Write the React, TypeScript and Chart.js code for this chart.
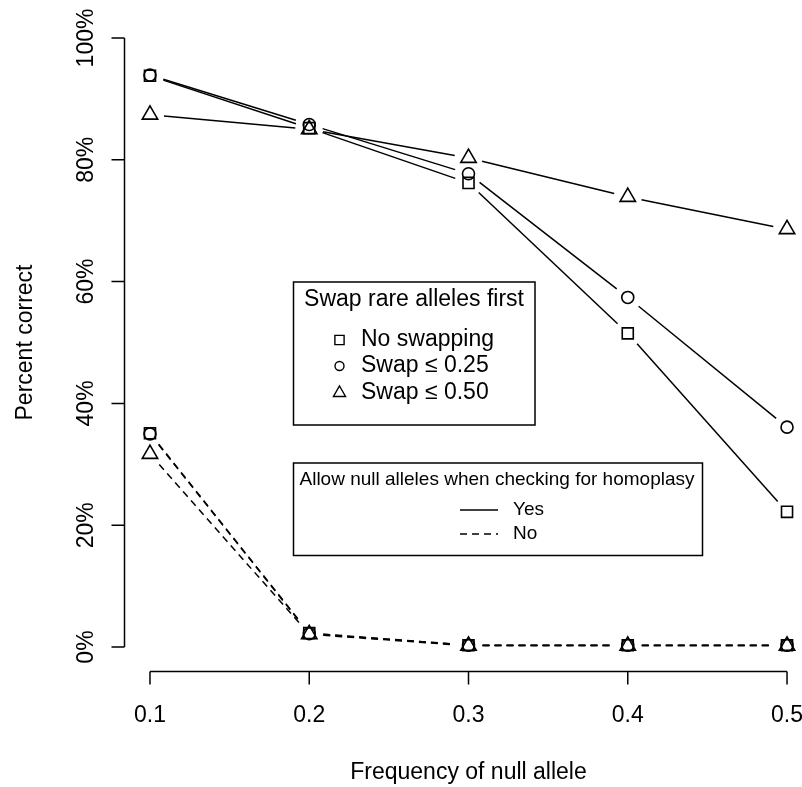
import React, { useEffect, useRef } from "react";
import { Chart, registerables } from "chart.js";

Chart.register(...registerables);

// ---- data ----
const frequencies = [0.1, 0.2, 0.3, 0.4, 0.5];
const yesNoSwap = [93.8, 85.2, 76.2, 51.5, 22.2];
const yesSwap25 = [93.9, 85.8, 77.7, 57.4, 36.1];
const yesSwap50 = [87.4, 85.0, 80.3, 73.9, 68.6];
const noNoSwap = [35.1, 2.3, 0.3, 0.3, 0.3];
const noSwap25 = [35.0, 2.2, 0.3, 0.3, 0.3];
const noSwap50 = [31.7, 2.1, 0.2, 0.2, 0.2];
const xTicks = [0.1, 0.2, 0.3, 0.4, 0.5];
const yTicks = [0, 20, 40, 60, 80, 100];
const swapLabels = ["No swapping", "Swap \u2264 0.25", "Swap \u2264 0.50"];
const nullLabels = ["Yes", "No"];
const xTitle = "Frequency of null allele";
const yTitle = "Percent correct";
const swapTitle = "Swap rare alleles first";
const nullTitle = "Allow null alleles when checking for homoplasy";

const FONT = '"Liberation Sans", Arial, Helvetica, sans-serif';
const GAP = 14;

const styles = ["rect", "circle", "triangle"];
const radii = [7.8, 6, 8.9];

function toPts(vals: number[]) {
  return frequencies.map((f, i) => ({ x: f, y: vals[i] }));
}

function drawSymbol(ctx: CanvasRenderingContext2D, style: string, x: number, y: number, r: number) {
  ctx.beginPath();
  if (style === "rect") {
    ctx.rect(x - r, y - r, 2 * r, 2 * r);
  } else if (style === "circle") {
    ctx.arc(x, y, r, 0, Math.PI * 2);
  } else {
    ctx.moveTo(x, y - r);
    ctx.lineTo(x + r * 0.866, y + r * 0.5);
    ctx.lineTo(x - r * 0.866, y + r * 0.5);
    ctx.closePath();
  }
  ctx.stroke();
}

const gapLines = {
  id: "gapLines",
  beforeDatasetsDraw(chart: any) {
    const ctx = chart.ctx as CanvasRenderingContext2D;
    chart.data.datasets.forEach((ds: any, i: number) => {
      const pts = chart.getDatasetMeta(i).data;
      ctx.save();
      ctx.strokeStyle = "#000";
      ctx.lineWidth = 1.5;
      ctx.setLineDash(ds.borderDash || []);
      for (let k = 0; k < pts.length - 1; k++) {
        const a = pts[k];
        const b = pts[k + 1];
        const dx = b.x - a.x;
        const dy = b.y - a.y;
        const len = Math.hypot(dx, dy);
        if (len <= 2 * GAP) continue;
        const ux = dx / len;
        const uy = dy / len;
        ctx.beginPath();
        ctx.moveTo(a.x + ux * GAP, a.y + uy * GAP);
        ctx.lineTo(b.x - ux * GAP, b.y - uy * GAP);
        ctx.stroke();
      }
      ctx.restore();
    });
  },
};

const axesAndLegends = {
  id: "axesAndLegends",
  afterDraw(chart: any) {
    const ctx = chart.ctx as CanvasRenderingContext2D;
    const xs = chart.scales.x;
    const ys = chart.scales.y;
    ctx.save();
    ctx.strokeStyle = "#000";
    ctx.fillStyle = "#000";
    ctx.lineWidth = 1.5;
    ctx.setLineDash([]);

    // y axis
    const ax = chart.chartArea.left;
    const y0 = ys.getPixelForValue(yTicks[0]);
    const y1 = ys.getPixelForValue(yTicks[yTicks.length - 1]);
    ctx.beginPath();
    ctx.moveTo(ax, y0);
    ctx.lineTo(ax, y1);
    yTicks.forEach((t) => {
      const py = ys.getPixelForValue(t);
      ctx.moveTo(ax, py);
      ctx.lineTo(ax - 13, py);
    });
    ctx.stroke();
    ctx.font = `23px ${FONT}`;
    ctx.textAlign = "center";
    ctx.textBaseline = "middle";
    yTicks.forEach((t) => {
      const py = ys.getPixelForValue(t);
      ctx.save();
      ctx.translate(ax - 38, py);
      ctx.rotate(-Math.PI / 2);
      ctx.fillText(`${t}%`, 0, 0);
      ctx.restore();
    });
    ctx.save();
    ctx.translate(26, (chart.chartArea.top + chart.chartArea.bottom) / 2);
    ctx.rotate(-Math.PI / 2);
    ctx.fillText(yTitle, 0, 0);
    ctx.restore();

    // x axis
    const ay = chart.chartArea.bottom;
    const x0 = xs.getPixelForValue(xTicks[0]);
    const x1 = xs.getPixelForValue(xTicks[xTicks.length - 1]);
    ctx.beginPath();
    ctx.moveTo(x0, ay);
    ctx.lineTo(x1, ay);
    xTicks.forEach((t) => {
      const px = xs.getPixelForValue(t);
      ctx.moveTo(px, ay);
      ctx.lineTo(px, ay + 13);
    });
    ctx.stroke();
    xTicks.forEach((t) => {
      ctx.fillText(t.toFixed(1), xs.getPixelForValue(t), ay + 44);
    });
    const cx = (x0 + x1) / 2;
    ctx.fillText(xTitle, cx, ay + 101);

    // legend 1
    ctx.strokeRect(293.5, 282, 241.5, 143);
    ctx.font = `23px ${FONT}`;
    ctx.textAlign = "center";
    ctx.fillText(swapTitle, 414, 300);
    ctx.textAlign = "left";
    const ly = [340, 366, 393];
    const lr = [4.6, 4.5, 7];
    swapLabels.forEach((lab, i) => {
      ctx.lineWidth = 1.4;
      drawSymbol(ctx, styles[i], 339.5, ly[i], lr[i]);
      ctx.fillText(lab, 361, ly[i]);
    });

    // legend 2
    ctx.lineWidth = 1.5;
    ctx.strokeRect(293.5, 463, 409, 92.5);
    ctx.font = `19px ${FONT}`;
    ctx.textAlign = "center";
    ctx.fillText(nullTitle, 497, 480);
    ctx.textAlign = "left";
    const ny = [510, 534];
    nullLabels.forEach((lab, i) => {
      ctx.setLineDash(i === 1 ? [7, 5] : []);
      ctx.beginPath();
      ctx.moveTo(460, ny[i]);
      ctx.lineTo(498, ny[i]);
      ctx.stroke();
      ctx.setLineDash([]);
      ctx.fillText(lab, 513, ny[i]);
    });
    ctx.restore();
  },
};

export default function App() {
  const ref = useRef<HTMLCanvasElement | null>(null);
  useEffect(() => {
    if (!ref.current) return;
    const series = [
      { vals: yesNoSwap, s: 0, dash: [] as number[] },
      { vals: yesSwap25, s: 1, dash: [] as number[] },
      { vals: yesSwap50, s: 2, dash: [] as number[] },
      { vals: noNoSwap, s: 0, dash: [7, 5] },
      { vals: noSwap25, s: 1, dash: [7, 5] },
      { vals: noSwap50, s: 2, dash: [7, 5] },
    ];
    const chart = new Chart(ref.current, {
      type: "line",
      data: {
        datasets: series.map((d) => ({
          data: toPts(d.vals),
          showLine: false,
          clip: false,
          borderDash: d.dash,
          borderColor: "#000",
          pointStyle: styles[d.s] as any,
          pointRadius: radii[d.s],
          pointBorderWidth: 1.6,
          pointBorderColor: "#000",
          pointBackgroundColor: "rgba(0,0,0,0)",
        })),
      },
      options: {
        responsive: false,
        animation: false,
        devicePixelRatio: 1,
        events: [],
        layout: { autoPadding: false, padding: { left: 124.5, right: 0, top: 13.6, bottom: 115.6 } },
        scales: {
          x: { type: "linear", display: false, min: 0.084, max: 0.5094 },
          y: { type: "linear", display: false, min: -4, max: 104 },
        },
        plugins: { legend: { display: false }, tooltip: { enabled: false } },
      },
      plugins: [gapLines, axesAndLegends],
    });
    return () => chart.destroy();
  }, []);
  return (
    <div style={{ position: "absolute", left: 0, top: 0, width: 802, height: 787, background: "#fff" }}>
      <canvas ref={ref} width={802} height={787} style={{ width: "802px", height: "787px", display: "block" }} />
    </div>
  );
}
